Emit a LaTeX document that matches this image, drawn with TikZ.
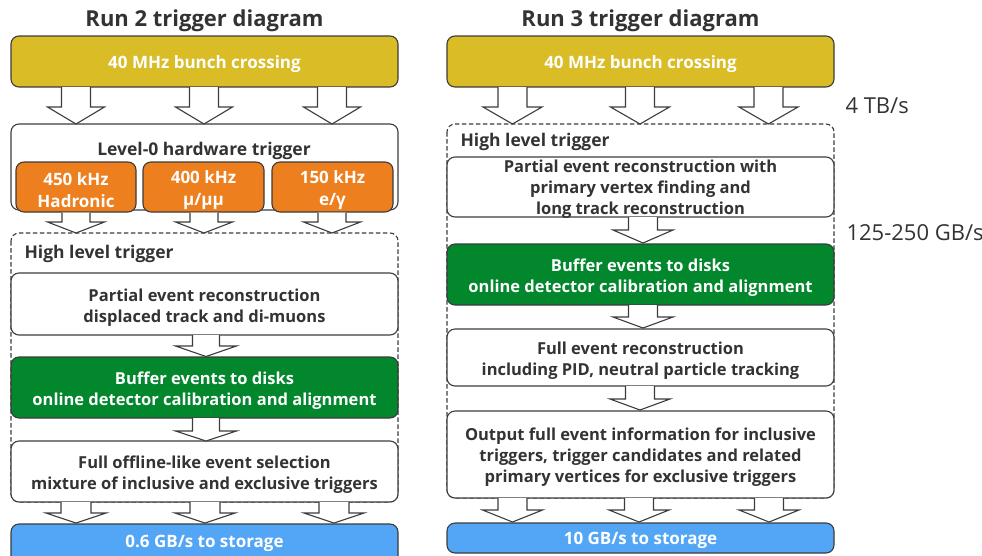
\documentclass[tikz,border=0pt]{standalone}
\usepackage{fontspec}
\setmainfont{Open Sans}
\definecolor{txt}{HTML}{333333}
\definecolor{edge}{HTML}{3C3C3C}
\definecolor{yel}{HTML}{D9BC26}
\definecolor{org}{HTML}{ED7F1E}
\definecolor{grn}{HTML}{02872D}
\definecolor{blu}{HTML}{53A6F5}
\tikzset{
  box/.style={draw=edge, line width=1.1pt, rounded corners=8pt, inner sep=0pt, outer sep=0pt},
  boxtext/.style={align=center, inner sep=0pt, font=\bfseries\fontsize{16.5}{21}\selectfont, text=txt},
  bigtext/.style={boxtext, text=white, font=\bfseries\fontsize{17}{22}\selectfont},
  hltbox/.style={draw=edge, line width=1.1pt, dash pattern=on 4.5pt off 2.5pt, rounded corners=8pt},
  arr/.style={draw=edge, fill=white, line width=1.1pt, line join=miter},
  heading/.style={font=\bfseries\fontsize{22}{26}\selectfont, text=txt},
  plain/.style={font=\bfseries\fontsize{17.5}{21}\selectfont, text=txt},
  rate/.style={font=\fontsize{22}{26}\selectfont, text=txt, anchor=west}
}
% block arrow: centre x, top y, head y, tip y, shaft half width, head half width
\newcommand\blockarrow[6]{%
  \path[arr] ({#1-#5},#2) -- ({#1-#5},#3) -- ({#1-#6},#3) -- (#1,#4)
    -- ({#1+#6},#3) -- ({#1+#5},#3) -- ({#1+#5},#2);}
\begin{document}
\begin{tikzpicture}[x=1pt,y=-1pt]
\useasboundingbox (0,0) rectangle (982,555);
\clip (0,0) rectangle (982,555);

% ---------------- Run 2 ----------------
\node[heading] (t2) at (204.5,21) {Run 2 trigger diagram};
\node[box, fill=yel, minimum width=387pt, minimum height=51pt] (y2) at (204.5,61.5) {};
\node[bigtext] (y2t) at ([yshift=-3pt]y2.center) {40 MHz bunch crossing};

\node[box, fill=white, minimum width=387pt, minimum height=86pt] (l0) at (204.5,167) {};
\node[plain] (l0t) at (204,150.5) {Level-0 hardware trigger};
\node[box, fill=org, minimum width=120pt, minimum height=50pt] (o1) at (76,187) {};
\node[box, fill=org, minimum width=121pt, minimum height=50pt] (o2) at (203.5,187) {};
\node[box, fill=org, minimum width=121pt, minimum height=50pt] (o3) at (332.5,187) {};
\node[bigtext] (o1t) at ([yshift=-3pt]o1.center) {450 kHz\\Hadronic};
\node[bigtext] (o2t) at ([yshift=-3pt]o2.center) {400 kHz\\μ/μμ};
\node[bigtext] (o3t) at ([yshift=-3pt]o3.center) {150 kHz\\e/γ};

\draw[hltbox] (11,233) rectangle (398,502);
\node[plain, anchor=west] (h2) at (21,254) {High level trigger};
\node[box, fill=white, minimum width=387pt, minimum height=62pt] (p2) at (204.5,304) {};
\node[boxtext] (p2t) at ([yshift=-3.5pt]p2.center) {Partial event reconstruction\\displaced track and di-muons};
\node[box, fill=grn, minimum width=387pt, minimum height=61pt] (g2) at (204.5,387.5) {};
\node[boxtext, text=white] (g2t) at ([yshift=-3pt]g2.center) {Buffer events to disks\\online detector calibration and alignment};
\node[box, fill=white, minimum width=387pt, minimum height=61pt] (f2) at (204.5,471.5) {};
\node[boxtext] (f2t) at ([yshift=-3pt]f2.center) {Full offline-like event selection\\mixture of inclusive and exclusive triggers};
\node[box, fill=blu, minimum width=387pt, minimum height=40pt] (b2) at (204.5,544) {};
\node[bigtext] (b2t) at (204.5,543) {0.6 GB/s to storage};

\blockarrow{76}{87}{107}{124}{14.5}{28.5}
\blockarrow{204}{87}{107}{124}{14.5}{28.5}
\blockarrow{332}{87}{107}{124}{14.5}{28.5}
\blockarrow{76}{212.5}{222}{233}{14}{28.5}
\blockarrow{204}{212.5}{222}{233}{14}{28.5}
\blockarrow{332}{212.5}{222}{233}{14}{28.5}
\blockarrow{206}{335}{346}{356.5}{13.5}{30.5}
\blockarrow{206}{418}{431}{441}{13.5}{30.5}
\blockarrow{76}{502}{513}{523}{15}{30}
\blockarrow{205}{502}{513}{523}{15}{30}
\blockarrow{334}{502}{513}{523}{15}{30}

% ---------------- Run 3 ----------------
\node[heading] (t3) at (640.5,21) {Run 3 trigger diagram};
\node[box, fill=yel, minimum width=387pt, minimum height=51pt] (y3) at (640.5,61.5) {};
\node[bigtext] (y3t) at ([yshift=-3pt]y3.center) {40 MHz bunch crossing};

\draw[hltbox] (447,124) rectangle (834,498);
\node[plain, anchor=west] (h3) at (457,142) {High level trigger};
\node[box, fill=white, minimum width=387pt, minimum height=60pt] (p3) at (640.5,187) {};
\node[boxtext] (p3t) at ([yshift=-2.5pt]p3.center) {Partial event reconstruction with\\primary vertex finding and\\long track reconstruction};
\node[box, fill=grn, minimum width=387pt, minimum height=61pt] (g3) at (640.5,274.5) {};
\node[boxtext, text=white] (g3t) at ([yshift=-3pt]g3.center) {Buffer events to disks\\online detector calibration and alignment};
\node[box, fill=white, minimum width=387pt, minimum height=57pt] (e3) at (640.5,357.5) {};
\node[boxtext] (e3t) at ([yshift=-3pt]e3.center) {Full event reconstruction\\including PID, neutral particle tracking};
\node[box, fill=white, minimum width=387pt, minimum height=87pt] (u3) at (640.5,454.5) {};
\node[boxtext] (u3t) at ([yshift=-3pt]u3.center) {Output full event information for inclusive\\triggers, trigger candidates and related\\primary vertices for exclusive triggers};
\node[box, fill=blu, minimum width=387pt, minimum height=30pt] (b3) at (640.5,538) {};
\node[bigtext] (b3t) at ([yshift=-2.5pt]b3.center) {10 GB/s to storage};

\blockarrow{512.5}{87}{107}{124}{14.5}{29.5}
\blockarrow{640}{87}{107}{124}{14.5}{29.5}
\blockarrow{768.5}{87}{107}{124}{14.5}{29.5}
\blockarrow{643}{217}{230}{243}{14.5}{30}
\blockarrow{643}{305}{317}{328}{14.5}{30}
\blockarrow{640}{386}{399}{410}{14.5}{30}
\blockarrow{512.5}{498}{510}{522}{14.5}{30}
\blockarrow{639}{498}{510}{522}{14.5}{30}
\blockarrow{769}{498}{510}{522}{14.5}{30}

\node[rate] (r1) at (842,106) {4 TB/s};
\node[rate] (r2) at (843,233) {125-250 GB/s};
\end{tikzpicture}
\end{document}
